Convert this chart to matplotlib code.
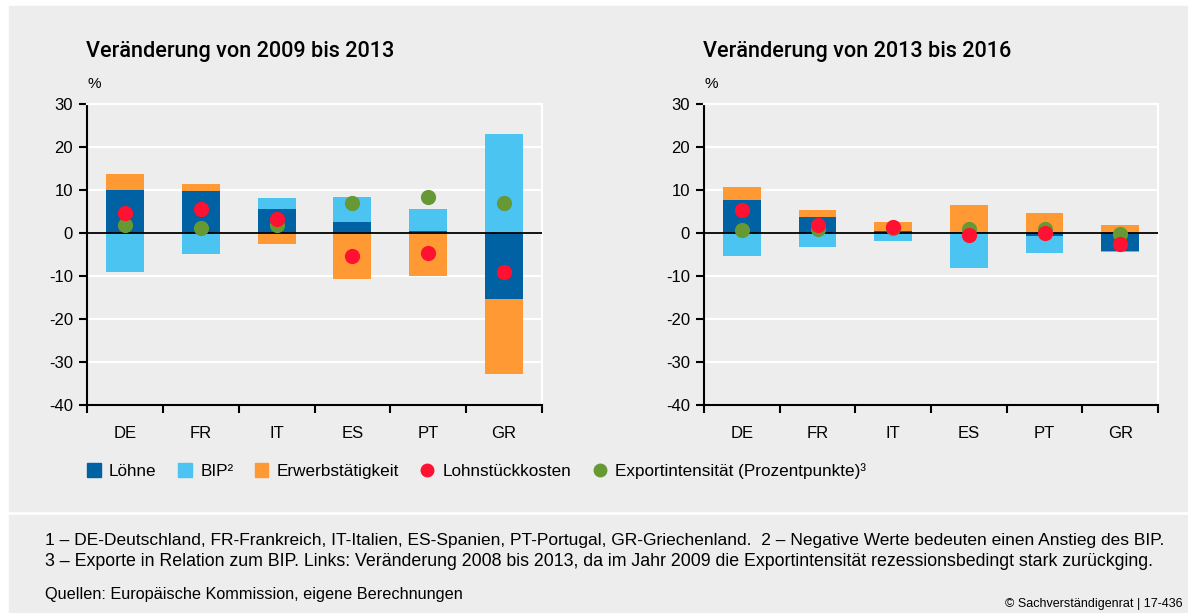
import matplotlib
matplotlib.use("Agg")
import matplotlib.pyplot as plt
import numpy as np
from matplotlib.patches import Patch, Rectangle
from matplotlib.lines import Line2D

plt.rcParams["font.family"] = ["Liberation Sans", "DejaVu Sans"]
plt.rcParams["axes.unicode_minus"] = False

# Laender
countries = ["DE", "FR", "IT", "ES", "PT", "GR"]

# Veraenderung 2009 bis 2013
loehne_0913 = [10.0, 9.8, 5.6, 2.6, 0.5, -15.4]
bip_0913 = [-9.1, -4.8, 2.5, 5.8, 5.1, 23.0]
erwerb_0913 = [3.7, 1.6, -2.5, -10.6, -9.9, -17.4]
lsk_0913 = [4.7, 5.5, 3.3, -5.4, -4.6, -9.0]
export_0913 = [1.9, 1.2, 1.9, 6.9, 8.4, 7.0]

# Veraenderung 2013 bis 2016
loehne_1316 = [7.7, 3.7, 0.5, 0.2, -0.6, -4.2]
bip_1316 = [-5.3, -3.2, -1.8, -8.1, -4.0, -0.2]
erwerb_1316 = [3.0, 1.6, 2.1, 6.3, 4.6, 1.9]
lsk_1316 = [5.4, 1.8, 1.4, -0.5, -0.1, -2.6]
export_1316 = [0.6, 0.9, 1.2, 0.9, 0.9, -0.2]

C_LOEHNE = "#0061a3"
C_BIP = "#4bc4f1"
C_ERWERB = "#ff9933"
C_LSK = "#ff1131"
C_EXPORT = "#669933"
BG = "#ededed"

fig = plt.figure(figsize=(11.88, 6.13), dpi=100)
fig.patch.set_facecolor("white")
# grey panels (chart + footnotes)
fig.patches.append(Rectangle((9 / 1188, 1 - 511 / 613), 1, 505 / 613,
                             transform=fig.transFigure, color=BG, zorder=-10))
fig.patches.append(Rectangle((9 / 1188, 0), 1, 98 / 613,
                             transform=fig.transFigure, color=BG, zorder=-10))


def draw_panel(ax, title, series, lsk, export):
    x = np.arange(len(countries))
    pos = np.zeros(len(countries))
    neg = np.zeros(len(countries))
    for vals, col in series:
        vals = np.array(vals)
        bottom = np.where(vals >= 0, pos, neg)
        ax.bar(x, vals, 0.5, bottom=bottom, color=col, zorder=2)
        pos = pos + np.clip(vals, 0, None)
        neg = neg + np.clip(vals, None, 0)

    ax.axhline(0, color="black", lw=1.3, zorder=3)
    ax.scatter(x, export, s=120, color=C_EXPORT, zorder=4, linewidths=0)
    ax.scatter(x, lsk, s=120, color=C_LSK, zorder=5, linewidths=0)

    ax.set_facecolor(BG)
    ax.set_ylim(-40, 30)
    ax.set_xlim(-0.5, len(countries) - 0.5)
    ax.set_yticks(np.arange(-40, 31, 10))
    ax.yaxis.grid(True, color="white", lw=1.6, zorder=0)
    ax.set_axisbelow(True)

    ax.set_xticks(np.arange(-0.5, len(countries), 1))
    ax.set_xticklabels([])
    ax.set_xticks(x, minor=True)
    ax.set_xticklabels(countries, minor=True)
    ax.tick_params(axis="x", which="major", length=6, width=1.5, direction="out")
    ax.tick_params(axis="x", which="minor", length=0, pad=15, labelsize=12)
    ax.tick_params(axis="y", length=6, width=1.5, labelsize=12, pad=4)

    for s in ("top", "right"):
        ax.spines[s].set_color("white")
        ax.spines[s].set_linewidth(1.6)
    for s in ("left", "bottom"):
        ax.spines[s].set_color("black")
        ax.spines[s].set_linewidth(1.5)

    ax.text(-0.003, 1.175, title, transform=ax.transAxes, fontsize=15.6,
            fontweight="medium", family=["Roboto", "DejaVu Sans"],
            ha="left", va="center")
    ax.text(0.002, 1.068, "%", transform=ax.transAxes, fontsize=11,
            ha="left", va="center")


ax1 = fig.add_axes([87 / 1188, 1 - 405 / 613, 455 / 1188, 301 / 613])
ax2 = fig.add_axes([704 / 1188, 1 - 405 / 613, 454 / 1188, 301 / 613])

draw_panel(ax1, "Veränderung von 2009 bis 2013",
           [(loehne_0913, C_LOEHNE), (bip_0913, C_BIP), (erwerb_0913, C_ERWERB)],
           lsk_0913, export_0913)
draw_panel(ax2, "Veränderung von 2013 bis 2016",
           [(loehne_1316, C_LOEHNE), (bip_1316, C_BIP), (erwerb_1316, C_ERWERB)],
           lsk_1316, export_1316)

handles = [
    Patch(color=C_LOEHNE, label="Löhne"),
    Patch(color=C_BIP, label="BIP²"),
    Patch(color=C_ERWERB, label="Erwerbstätigkeit"),
    Line2D([], [], marker="o", ls="", color=C_LSK, markersize=9, label="Lohnstückkosten"),
    Line2D([], [], marker="o", ls="", color=C_EXPORT, markersize=9,
           label="Exportintensität (Prozentpunkte)³"),
]
fig.legend(handles=handles, loc="center left", bbox_to_anchor=(80 / 1188, 1 - 471 / 613),
           ncol=5, frameon=False, fontsize=12.3, handlelength=0.8, handleheight=0.8,
           handletextpad=0.5, columnspacing=1.25, borderaxespad=0)

fig.text(45 / 1188, 1 - 540 / 613,
         "1 – DE-Deutschland, FR-Frankreich, IT-Italien, ES-Spanien, PT-Portugal, "
         "GR-Griechenland.  2 – Negative Werte bedeuten einen Anstieg des BIP.",
         fontsize=12.5, va="center", ha="left")
fig.text(45 / 1188, 1 - 561 / 613,
         "3 – Exporte in Relation zum BIP. Links: Veränderung 2008 bis 2013, da im Jahr "
         "2009 die Exportintensität rezessionsbedingt stark zurückging.",
         fontsize=12.8, va="center", ha="left")
fig.text(45 / 1188, 1 - 595 / 613, "Quellen: Europäische Kommission, eigene Berechnungen",
         fontsize=11.7, va="center", ha="left")
fig.text(1005 / 1188, 1 - 604 / 613, "© Sachverständigenrat | 17-436",
         fontsize=9, va="center", ha="left")

fig.savefig("out.png", dpi=100, facecolor=fig.get_facecolor())
